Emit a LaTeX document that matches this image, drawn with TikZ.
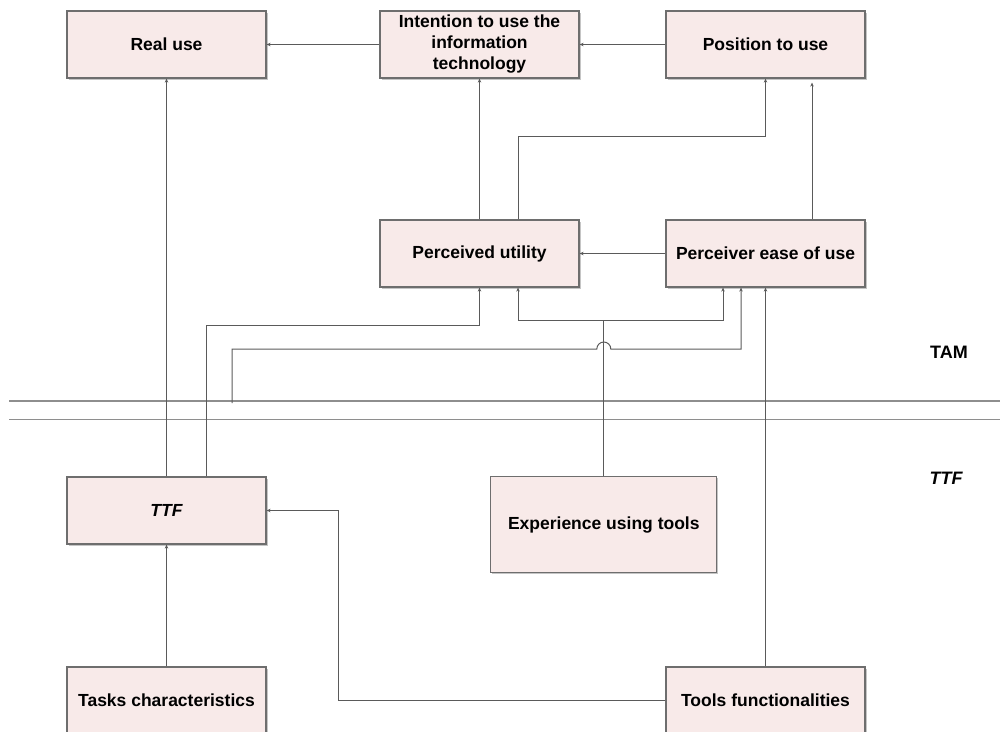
\documentclass[tikz,border=0pt]{standalone}
\usepackage{fontspec}
\setmainfont{Liberation Sans}
\usetikzlibrary{arrows.meta,shadows}
\definecolor{boxfill}{HTML}{F8EAE9}
\definecolor{boxline}{HTML}{6E6E6E}
\definecolor{conn}{HTML}{5A5A5A}
\definecolor{sep}{HTML}{8E8E8E}
\tikzset{
  stage/.style={draw=boxline, line width=1.2pt, fill=boxfill,
    minimum width=199pt, minimum height=67pt, inner sep=2pt,
    align=center, font=\bfseries\fontsize{17.5}{21}\selectfont,
    drop shadow={shadow xshift=1.6pt, shadow yshift=-1.6pt, fill=black!45, opacity=0.5}},
  link/.style={draw=conn, line width=1pt, -{Stealth[length=4pt,width=3.5pt]}},
  plainlink/.style={draw=conn, line width=1pt},
  divider/.style={draw=sep, line width=1.6pt},
  tag/.style={font=\bfseries\fontsize{18}{21}\selectfont}
}
\begin{document}
\begin{tikzpicture}[x=1pt,y=1pt]
\useasboundingbox (0,0) rectangle (1000,-731);
\clip (0,0) rectangle (1000,-731);

% TAM / TTF dividers
\coordinate (d1a) at (9.3,-401);
\coordinate (d1b) at (1000,-401);
\coordinate (d2a) at (9.3,-419.5);
\coordinate (d2b) at (1000,-419.5);
\draw[divider] (d1a) -- (d1b);
\draw[divider] (d2a) -- (d2b);

% stages
\node[stage] (real)   at (166.5,-44.5)  {Real use};
\node[stage] (intent) at (479.5,-44.5)  {Intention to use the\\information\\technology};
\node[stage] (pos)    at (765.5,-44.5)  {Position to use};
\node[stage] (pu)     at (479.5,-253.5) {Perceived utility};
\node[stage] (peou)   at (765.5,-253.5) {Perceiver ease of use};
\node[stage] (ttf)    at (166.5,-510.5) {\itshape TTF};
\node[stage, minimum width=226pt, minimum height=96pt] (exp) at (603.8,-524.7) {Experience using tools};
\node[stage] (tasks)  at (166.5,-700.5) {Tasks characteristics};
\node[stage] (tools)  at (765.5,-700.5) {Tools functionalities};

% model labels
\node[tag] (tam) at (949,-352) {TAM};
\node[tag] (ttflabel) at (946,-478) {\itshape TTF};

% TAM links
\draw[link] (intent) -- (real);
\draw[link] (pos) -- (intent);
\draw[link] (peou) -- (pu);
\draw[link] (pu) -- (intent);
\draw[link] ([xshift=38.5pt]pu.north) -- ++(0,83) -| (pos.south);
\draw[link] ([xshift=46.5pt]peou.north) -- ([xshift=46.5pt,yshift=-4pt]pos.south);

% TTF links
\draw[link] (ttf) -- (real);
\draw[link] ([xshift=39.5pt]ttf.north) -- ++(0,151) -| (pu.south);
\draw[link] (tasks) -- (ttf);
\draw[link] (tools.west) -- ++(-326.7,0) |- (ttf.east);
\draw[link] (tools) -- (peou);

% experience feeds both perceptions
\coordinate (jexp) at (603.8,-320);
\draw[plainlink] (exp.north) -- (jexp);
\draw[link] (jexp) -| ([xshift=38.5pt]pu.south);
\draw[link] (jexp) -| ([xshift=-42.5pt]peou.south);

% line from the divider to ease of use, hopping over the experience line
\coordinate (hopstart) at (232,-403);
\draw[link] (hopstart) -- (232,-349) -- (596.8,-349) arc (180:0:7) -- (741,-349) -- ([xshift=-24.5pt]peou.south);
\end{tikzpicture}
\end{document}
